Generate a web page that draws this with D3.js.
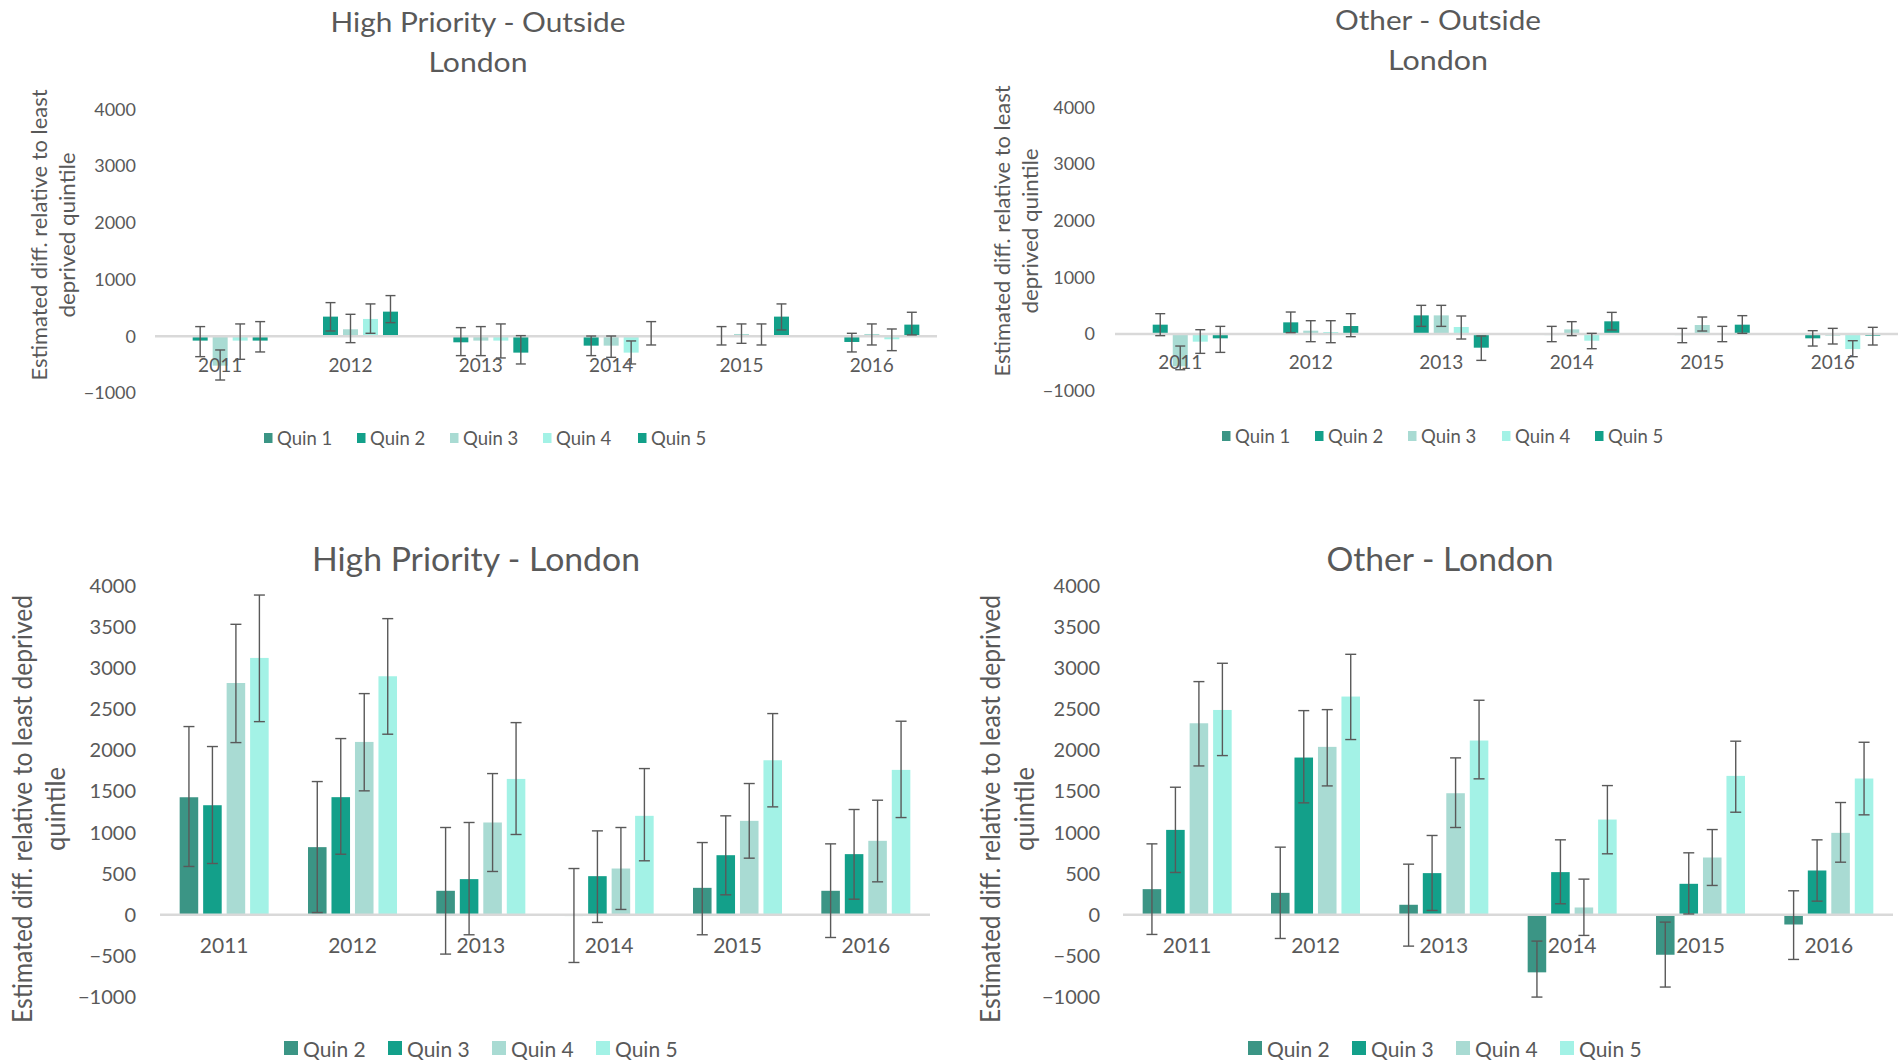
<!DOCTYPE html>
<html>
<head>
<meta charset="utf-8">
<script src="https://cdn.jsdelivr.net/npm/d3@7"></script>
<style>
  html, body { margin: 0; padding: 0; background: #ffffff; }
  svg { display: block; }
  text { font-family: Lato, "Open Sans", "DejaVu Sans", sans-serif; fill: #595959; }
</style>
</head>
<body>
<svg id="chart" width="1901" height="1061"></svg>
<script>
// ---------------- DATA ----------------
const years = ["2011", "2012", "2013", "2014", "2015", "2016"];
const quinTop = ["Quin 1", "Quin 2", "Quin 3", "Quin 4", "Quin 5"];
const quinBottom = ["Quin 2", "Quin 3", "Quin 4", "Quin 5"];
const yTicksTop = [-1000, 0, 1000, 2000, 3000, 4000];
const yTicksBottom = [-1000, -500, 0, 500, 1000, 1500, 2000, 2500, 3000, 3500, 4000];
const colorsTop = ["#3b9585", "#13a08a", "#a9dbd3", "#a3f2e6", "#12a089"];
const colorsBottom = ["#3b9585", "#13a08a", "#a9dbd3", "#a3f2e6"];

// High Priority - Outside London (Quin 1 .. Quin 5), estimate, lower CI, upper CI
const hpOutsideValues = [
  [0, 0, 0, 0, 0, 0],
  [-76, 347, -106, -165, 15, -100],
  [-518, 124, -76, -165, 41, 41],
  [-76, 306, -76, -288, 10, -53],
  [-76, 435, -288, 18, 347, 206]
];
const hpOutsideLow = [
  null,
  [-359, 94, -341, -341, -153, -276],
  [-771, -112, -341, -371, -124, -153],
  [-406, 53, -382, -488, -153, -253],
  [-276, 241, -488, -153, 112, 24]
];
const hpOutsideHigh = [
  null,
  [171, 594, 153, 5, 171, 53],
  [-241, 388, 171, 5, 218, 218],
  [218, 571, 218, -82, 218, 129],
  [259, 718, 12, 259, 571, 424]
];

// Other - Outside London
const otherOutsideValues = [
  [0, 0, 0, 0, 0, 0],
  [165, 206, 329, -18, -18, -76],
  [-570, 59, 329, 82, 159, -29],
  [-135, 35, 124, -118, -5, -265],
  [-76, 141, -241, 224, 165, -30]
];
const otherOutsideLow = [
  null,
  [-29, 24, 135, -135, -153, -212],
  [-630, -135, 135, -29, 53, -176],
  [-341, -153, -88, -259, -135, -400],
  [-324, -47, -465, 71, 12, -194]
];
const otherOutsideHigh = [
  null,
  [359, 388, 506, 135, 100, 59],
  [-212, 235, 506, 218, 300, 100],
  [76, 235, 318, 12, 135, -118],
  [135, 359, -35, 382, 324, 118]
];

// High Priority - London (Quin 2 .. Quin 5)
const hpLondonValues = [
  [1430, 823, 292, -15, 328, 292],
  [1333, 1431, 434, 470, 725, 738],
  [2820, 2103, 1123, 563, 1143, 900],
  [3125, 2902, 1653, 1204, 1880, 1763]
];
const hpLondonLow = [
  [588, 28, -478, -580, -243, -276],
  [624, 737, -243, -93, 243, 190],
  [2095, 1508, 527, 65, 689, 401],
  [2350, 2197, 977, 657, 1313, 1183]
];
const hpLondonHigh = [
  [2290, 1621, 1062, 563, 879, 863],
  [2047, 2144, 1123, 1021, 1204, 1281],
  [3534, 2691, 1718, 1062, 1597, 1394],
  [3890, 3603, 2338, 1779, 2448, 2355]
];

// Other - London
const otherLondonValues = [
  [312, 267, 122, -700, -486, -118],
  [1033, 1913, 507, 519, 377, 539],
  [2330, 2043, 1479, 89, 697, 997],
  [2492, 2655, 2120, 1159, 1690, 1658]
];
const otherLondonLow = [
  [-239, -288, -381, -1001, -879, -543],
  [515, 1362, 53, 134, 10, 166],
  [1811, 1568, 1062, -251, 357, 640],
  [1937, 2132, 1654, 742, 1248, 1216]
];
const otherLondonHigh = [
  [863, 823, 616, -320, -89, 292],
  [1552, 2484, 965, 912, 754, 912],
  [2837, 2496, 1909, 434, 1037, 1366],
  [3060, 3169, 2610, 1572, 2112, 2099]
];

// ---------------- LAYOUT ----------------
const svg = d3.select("#chart");

const panels = [
  {
    titleLines: ["High Priority - Outside", "London"], titleX: 478, titleY: [32, 72],
    titleSize: 27, titleW: [295, 99],
    yTitle: ["Estimated diff. relative to least", "deprived quintile"], yTitleX: [38, 66], yTitleY: 235,
    yTitleSize: 22, yTitleW: [291, 165],
    x0: 155, x1: 937, yMaxPx: 109.5, yMinPx: 393, tickRight: 136, tickSize: 18,
    catY: 372, catSize: 19, stepFrac: 0.1534, barFrac: 0.75, capW: 10,
    series: quinTop, colors: colorsTop, ticks: yTicksTop,
    values: hpOutsideValues, low: hpOutsideLow, high: hpOutsideHigh,
    legendX: [264, 357, 450, 543, 638], legendY: 438, swatch: 10, legendSize: 18.5, legendGap: 13
  },
  {
    titleLines: ["Other - Outside", "London"], titleX: 1438, titleY: [30, 70],
    titleSize: 27, titleW: [206, 100],
    yTitle: ["Estimated diff. relative to least", "deprived quintile"], yTitleX: [1001, 1029], yTitleY: 231,
    yTitleSize: 22, yTitleW: [291, 165],
    x0: 1115, x1: 1898, yMaxPx: 107.3, yMinPx: 390.7, tickRight: 1095, tickSize: 18,
    catY: 369, catSize: 19, stepFrac: 0.1534, barFrac: 0.75, capW: 10,
    series: quinTop, colors: colorsTop, ticks: yTicksTop,
    values: otherOutsideValues, low: otherOutsideLow, high: otherOutsideHigh,
    legendX: [1222, 1315, 1408, 1502, 1595], legendY: 436, swatch: 10, legendSize: 18.5, legendGap: 13
  },
  {
    titleLines: ["High Priority - London"], titleX: 476, titleY: [571],
    titleSize: 33, titleW: [328],
    yTitle: ["Estimated diff. relative to least deprived", "quintile"], yTitleX: [22, 55], yTitleY: 809,
    yTitleSize: 26, yTitleW: [428, 84],
    x0: 160, x1: 930, yMaxPx: 586, yMinPx: 997, tickRight: 136, tickSize: 20,
    catY: 953, catSize: 21, stepFrac: 0.183, barFrac: 0.79, capW: 11,
    series: quinBottom, colors: colorsBottom, ticks: yTicksBottom,
    values: hpLondonValues, low: hpLondonLow, high: hpLondonHigh,
    legendX: [284, 388, 492, 596], legendY: 1048, swatch: 14, legendSize: 21, legendGap: 19
  },
  {
    titleLines: ["Other - London"], titleX: 1440, titleY: [571],
    titleSize: 33, titleW: [227],
    yTitle: ["Estimated diff. relative to least deprived", "quintile"], yTitleX: [990, 1024], yTitleY: 809,
    yTitleSize: 26, yTitleW: [428, 84],
    x0: 1123, x1: 1893, yMaxPx: 586, yMinPx: 997, tickRight: 1100, tickSize: 20,
    catY: 953, catSize: 21, stepFrac: 0.183, barFrac: 0.79, capW: 11,
    series: quinBottom, colors: colorsBottom, ticks: yTicksBottom,
    values: otherLondonValues, low: otherLondonLow, high: otherLondonHigh,
    legendX: [1248, 1352, 1456, 1560], legendY: 1048, swatch: 14, legendSize: 21, legendGap: 19
  }
];

function drawPanel(p) {
  const g = svg.append("g");
  const x = d3.scaleBand().domain(years).range([p.x0, p.x1]).paddingInner(0).paddingOuter(0);
  const y = d3.scaleLinear().domain([-1000, 4000]).range([p.yMinPx, p.yMaxPx]);
  const n = p.series.length;
  const step = x.bandwidth() * p.stepFrac;
  const bw = step * p.barFrac;
  const cx = (yr, i) => x(yr) + x.bandwidth() / 2 + (i - (n - 1) / 2) * step;

  // title
  p.titleLines.forEach((t, k) => {
    g.append("text")
      .attr("x", p.titleX).attr("y", p.titleY[k])
      .attr("text-anchor", "middle")
      .attr("font-size", p.titleSize)
      .attr("textLength", p.titleW[k]).attr("lengthAdjust", "spacingAndGlyphs")
      .text(t);
  });

  // y axis tick labels
  const ax = g.append("g")
    .attr("transform", `translate(${p.tickRight},0)`)
    .call(d3.axisLeft(y).tickValues(p.ticks).tickSize(0).tickPadding(0).tickFormat(d3.format("d")));
  ax.select(".domain").remove();
  ax.selectAll("text")
    .attr("font-size", p.tickSize)
    .attr("font-family", null)
    .style("fill", "#595959");

  // y axis title
  p.yTitle.forEach((t, k) => {
    g.append("text")
      .attr("transform", `translate(${p.yTitleX[k]},${p.yTitleY}) rotate(-90)`)
      .attr("text-anchor", "middle")
      .attr("dominant-baseline", "central")
      .attr("font-size", p.yTitleSize)
      .attr("textLength", p.yTitleW[k]).attr("lengthAdjust", "spacingAndGlyphs")
      .text(t);
  });

  // bars
  p.series.forEach((s, i) => {
    g.append("g").selectAll("rect")
      .data(years.map((yr, j) => ({ yr, v: p.values[i][j] })))
      .join("rect")
      .attr("x", d => cx(d.yr, i) - bw / 2)
      .attr("y", d => Math.min(y(d.v), y(0)))
      .attr("width", bw)
      .attr("height", d => Math.abs(y(d.v) - y(0)))
      .attr("fill", p.colors[i]);
  });

  // zero axis line
  g.append("line")
    .attr("x1", p.x0).attr("x2", p.x1)
    .attr("y1", y(0)).attr("y2", y(0))
    .attr("stroke", "#d9d9d9").attr("stroke-width", 2.5);

  // error bars
  p.series.forEach((s, i) => {
    if (!p.low[i]) return;
    const eg = g.append("g").attr("stroke", "#595959").attr("stroke-width", 1.4).attr("fill", "none");
    years.forEach((yr, j) => {
      const c = cx(yr, i);
      const lo = y(p.low[i][j]), hi = y(p.high[i][j]);
      eg.append("line").attr("x1", c).attr("x2", c).attr("y1", lo).attr("y2", hi);
      eg.append("line").attr("x1", c - p.capW / 2).attr("x2", c + p.capW / 2).attr("y1", lo).attr("y2", lo);
      eg.append("line").attr("x1", c - p.capW / 2).attr("x2", c + p.capW / 2).attr("y1", hi).attr("y2", hi);
    });
  });

  // category labels
  g.append("g").selectAll("text")
    .data(years)
    .join("text")
    .attr("x", d => x(d) + x.bandwidth() / 2)
    .attr("y", p.catY)
    .attr("text-anchor", "middle")
    .attr("font-size", p.catSize)
    .text(d => d);

  // legend
  p.series.forEach((s, i) => {
    g.append("rect")
      .attr("x", p.legendX[i]).attr("y", p.legendY - p.swatch / 2)
      .attr("width", p.swatch * (p.swatch > 10 ? 1 : 0.85)).attr("height", p.swatch)
      .attr("fill", p.colors[i]);
    g.append("text")
      .attr("x", p.legendX[i] + p.legendGap).attr("y", p.legendY)
      .attr("dominant-baseline", "central")
      .attr("font-size", p.legendSize)
      .text(s);
  });
}

panels.forEach(drawPanel);
</script>
</body>
</html>
